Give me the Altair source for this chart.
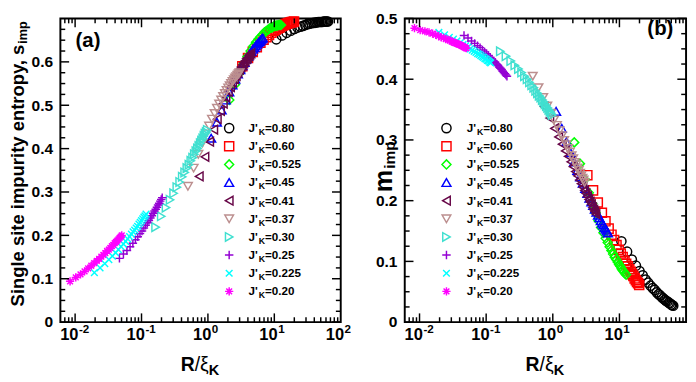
import altair as alt
import pandas as pd

FONT = "Liberation Sans"

SERIES = ["0.80", "0.60", "0.525", "0.45", "0.41", "0.37", "0.30", "0.25", "0.225", "0.20"]
COLORS = ["#000000", "#ff0000", "#00ff00", "#0000ff", "#670748", "#bc8f8f",
          "#40e0d0", "#9400d3", "#00ffff", "#ff00ff"]
PLUS = "M-1,0L1,0M0,-1L0,1"
XMARK = "M-0.8,-0.8L0.8,0.8M-0.8,0.8L0.8,-0.8"
AST = "M-1,0L1,0M0,-1L0,1M-0.7,-0.7L0.7,0.7M-0.7,0.7L0.7,-0.7"
SHAPES = ["circle", "square", "diamond", "triangle-up", "triangle-left",
          "triangle-down", "triangle-right", PLUS, XMARK, AST]
SIZES = [90, 72, 90, 105, 105, 105, 105, 120, 100, 120]

# R / xi_K values of each series (same in both panels)
X080 = [10.7, 13.03, 15.35, 17.68, 20.00, 22.33, 24.66, 26.98, 29.31, 31.63, 33.96, 36.29,
        38.61, 40.94, 43.27, 45.59, 47.92, 50.24, 52.57, 54.90, 57.22, 59.55, 61.87, 64.2]
X060 = [3.3, 4.017, 4.735, 5.452, 6.170, 6.887, 7.604, 8.322, 9.039, 9.757, 10.47, 11.19,
        11.91, 12.63, 13.34, 14.06, 14.78, 15.50, 16.21, 16.93, 17.65, 18.37, 19.08, 19.8]
X0525 = [2.1, 2.557, 3.013, 3.470, 3.926, 4.383, 4.839, 5.296, 5.752, 6.209, 6.665, 7.122,
         7.578, 8.035, 8.491, 8.948, 9.404, 9.861, 10.32, 10.77, 11.23, 11.69, 12.14, 12.6]
X045 = [1.12, 1.363, 1.607, 1.850, 2.094, 2.337, 2.581, 2.824, 3.068, 3.311, 3.555, 3.798,
        4.042, 4.285, 4.529, 4.772, 5.016, 5.259, 5.503, 5.746, 5.990, 6.233, 6.477, 6.72]
X041 = [0.74, 0.901, 1.062, 1.223, 1.384, 1.544, 1.705, 1.866, 2.027, 2.188, 2.349, 2.510,
        2.670, 2.831, 2.992, 3.153, 3.314, 3.475, 3.636, 3.797, 3.957, 4.118, 4.279, 4.44]
X037 = [0.5, 0.609, 0.717, 0.826, 0.935, 1.043, 1.152, 1.261, 1.370, 1.478, 1.587, 1.696,
        1.804, 1.913, 2.022, 2.130, 2.239, 2.348, 2.457, 2.565, 2.674, 2.783, 2.891, 3.0]
X030 = [0.163, 0.1984, 0.2339, 0.2693, 0.3047, 0.3402, 0.3756, 0.4110, 0.4465, 0.4819, 0.5173, 0.5528,
        0.5882, 0.6237, 0.6591, 0.6945, 0.7300, 0.7654, 0.8008, 0.8363, 0.8717, 0.9071, 0.9426, 0.978]
X025 = [0.0465, 0.0534, 0.0603, 0.0672, 0.0741, 0.0810, 0.0879, 0.0948, 0.1017, 0.1085, 0.1154, 0.1223,
        0.1292, 0.1361, 0.1430, 0.1499, 0.1568, 0.1637, 0.1706, 0.1775, 0.1844, 0.1913, 0.1982, 0.2051]
X0225 = [0.0195, 0.02374, 0.02798, 0.03222, 0.03646, 0.04070, 0.04493, 0.04917, 0.05341, 0.05765,
         0.06189, 0.06613, 0.07037, 0.07461, 0.07885, 0.08309, 0.08733, 0.09157, 0.0958, 0.1000,
         0.1043, 0.1085, 0.1128, 0.117]
X020 = [0.0084, 0.01023, 0.01205, 0.01388, 0.0157, 0.01753, 0.01936, 0.02118, 0.02301, 0.02483,
        0.02666, 0.02849, 0.03031, 0.03214, 0.03397, 0.03579, 0.03762, 0.03944, 0.04127, 0.0431,
        0.04492, 0.04675, 0.04857, 0.0504]

# panel (a): single site impurity entropy s_imp
SA080 = [0.652, 0.661, 0.667, 0.672, 0.676, 0.679, 0.681, 0.683, 0.685, 0.687, 0.688, 0.689,
         0.690, 0.690, 0.691, 0.692, 0.692, 0.692, 0.692, 0.693, 0.693, 0.693, 0.693, 0.693]
SA060 = [0.590, 0.609, 0.623, 0.634, 0.644, 0.651, 0.657, 0.662, 0.667, 0.671, 0.674, 0.677,
         0.679, 0.682, 0.684, 0.685, 0.687, 0.688, 0.689, 0.690, 0.691, 0.692, 0.692, 0.693]
SA0525 = [0.512, 0.548, 0.575, 0.595, 0.612, 0.625, 0.636, 0.645, 0.652, 0.658, 0.663, 0.668,
          0.671, 0.674, 0.677, 0.679, 0.680, 0.682, 0.683, 0.684, 0.684, 0.685, 0.685, 0.685]
SA045 = [0.424, 0.461, 0.489, 0.512, 0.531, 0.547, 0.560, 0.572, 0.582, 0.591, 0.599, 0.607,
         0.613, 0.619, 0.624, 0.629, 0.633, 0.637, 0.641, 0.644, 0.647, 0.650, 0.653, 0.655]
SA041 = [0.336, 0.381, 0.416, 0.444, 0.468, 0.487, 0.504, 0.518, 0.531, 0.542, 0.552, 0.560,
         0.568, 0.575, 0.582, 0.588, 0.593, 0.598, 0.602, 0.607, 0.610, 0.614, 0.617, 0.620]
SA037 = [0.313, 0.355, 0.387, 0.413, 0.434, 0.452, 0.468, 0.481, 0.493, 0.503, 0.512, 0.520,
         0.527, 0.534, 0.540, 0.545, 0.550, 0.555, 0.559, 0.563, 0.566, 0.569, 0.572, 0.575]
SA030 = [0.219, 0.244, 0.264, 0.282, 0.297, 0.311, 0.323, 0.335, 0.345, 0.355, 0.363, 0.372,
         0.379, 0.387, 0.394, 0.400, 0.406, 0.412, 0.418, 0.423, 0.429, 0.434, 0.438, 0.443]
SA025 = [0.147, 0.157, 0.165, 0.174, 0.182, 0.190, 0.197, 0.204, 0.210, 0.217, 0.223, 0.229,
         0.234, 0.240, 0.245, 0.251, 0.256, 0.260, 0.265, 0.270, 0.274, 0.279, 0.283, 0.287]
SA0225 = [0.114, 0.125, 0.135, 0.144, 0.152, 0.160, 0.167, 0.174, 0.180, 0.186, 0.192, 0.197,
          0.203, 0.208, 0.212, 0.217, 0.221, 0.226, 0.230, 0.234, 0.238, 0.242, 0.245, 0.249]
SA020 = [0.094, 0.103, 0.110, 0.117, 0.124, 0.130, 0.136, 0.141, 0.146, 0.151, 0.155, 0.159,
         0.164, 0.167, 0.171, 0.175, 0.178, 0.182, 0.185, 0.188, 0.191, 0.194, 0.197, 0.200]

# panel (b): impurity magnetisation m_imp
MB080 = [0.133, 0.116, 0.103, 0.093, 0.084, 0.077, 0.070, 0.065, 0.060, 0.056, 0.053, 0.049,
         0.046, 0.044, 0.041, 0.039, 0.037, 0.035, 0.034, 0.032, 0.031, 0.029, 0.028, 0.027]
MB060 = [0.242, 0.217, 0.197, 0.180, 0.166, 0.154, 0.144, 0.135, 0.127, 0.119, 0.113, 0.107,
         0.101, 0.096, 0.092, 0.087, 0.083, 0.079, 0.076, 0.072, 0.069, 0.066, 0.064, 0.061]
MB0525 = [0.296, 0.261, 0.235, 0.213, 0.195, 0.180, 0.167, 0.156, 0.147, 0.138, 0.131, 0.124,
          0.118, 0.112, 0.107, 0.103, 0.099, 0.095, 0.092, 0.088, 0.085, 0.083, 0.080, 0.078]
MB045 = [0.347, 0.319, 0.297, 0.279, 0.264, 0.250, 0.239, 0.229, 0.220, 0.212, 0.204, 0.198,
         0.192, 0.186, 0.181, 0.176, 0.172, 0.167, 0.163, 0.160, 0.156, 0.153, 0.150, 0.147]
MB041 = [0.355, 0.336, 0.319, 0.305, 0.293, 0.282, 0.273, 0.264, 0.256, 0.248, 0.241, 0.234,
         0.228, 0.222, 0.217, 0.212, 0.207, 0.202, 0.198, 0.194, 0.189, 0.185, 0.182, 0.178]
MB037 = [0.405, 0.386, 0.370, 0.356, 0.344, 0.333, 0.324, 0.315, 0.307, 0.299, 0.292, 0.286,
         0.280, 0.274, 0.269, 0.263, 0.259, 0.254, 0.250, 0.245, 0.241, 0.237, 0.234, 0.230]
MB030 = [0.446, 0.438, 0.430, 0.423, 0.417, 0.411, 0.405, 0.400, 0.395, 0.390, 0.386, 0.381,
         0.377, 0.373, 0.370, 0.366, 0.363, 0.359, 0.356, 0.353, 0.350, 0.347, 0.344, 0.341]
MB025 = [0.472, 0.468, 0.463, 0.459, 0.455, 0.452, 0.448, 0.445, 0.442, 0.439, 0.436, 0.433,
         0.430, 0.428, 0.425, 0.423, 0.420, 0.418, 0.416, 0.413, 0.411, 0.409, 0.407, 0.405]
MB0225 = [0.477, 0.473, 0.469, 0.466, 0.463, 0.460, 0.457, 0.455, 0.453, 0.450, 0.448, 0.446,
          0.444, 0.442, 0.441, 0.439, 0.437, 0.436, 0.434, 0.433, 0.431, 0.430, 0.428, 0.427]
MB020 = [0.484, 0.481, 0.479, 0.477, 0.475, 0.473, 0.471, 0.469, 0.468, 0.466, 0.465, 0.464,
         0.462, 0.461, 0.460, 0.459, 0.458, 0.457, 0.456, 0.455, 0.454, 0.453, 0.452, 0.451]

# ---------------- axes ----------------
XDOM = [0.006, 100]
X_MAJOR = [0.01, 0.1, 1, 10]
X_MINOR = [0.007, 0.008, 0.009, 0.02, 0.03, 0.04, 0.05, 0.06, 0.07, 0.08, 0.09,
           0.2, 0.3, 0.4, 0.5, 0.6, 0.7, 0.8, 0.9, 2, 3, 4, 5, 6, 7, 8, 9,
           20, 30, 40, 50, 60, 70, 80, 90]
XLAB_POS_A = [0.01, 0.1, 1, 10, 100]
XLAB_EXP_A = ["-2", "-1", "0", "1", "2"]
XLAB_POS_B = [0.01, 0.1, 1, 10]
XLAB_EXP_B = ["-2", "-1", "0", "1"]

YDOM_A = [0, 0.7]
YLAB_A = [0, 0.1, 0.2, 0.3, 0.4, 0.5, 0.6]
YMIN_A = [0.025, 0.05, 0.075, 0.125, 0.15, 0.175, 0.225, 0.25, 0.275, 0.325, 0.35, 0.375,
          0.425, 0.45, 0.475, 0.525, 0.55, 0.575, 0.625, 0.65, 0.675]
YDOM_B = [0, 0.5]
YLAB_B = [0, 0.1, 0.2, 0.3, 0.4, 0.5]
YMIN_B = [0.025, 0.05, 0.075, 0.125, 0.15, 0.175, 0.225, 0.25, 0.275, 0.325, 0.35, 0.375,
          0.425, 0.45, 0.475]

XS_ALL = [X080, X060, X0525, X045, X041, X037, X030, X025, X0225, X020]


def long_df(ys):
    rows = []
    for s, xl, yl in zip(SERIES, XS_ALL, ys):
        for x, y in zip(xl, yl):
            rows.append({"J": s, "x": x, "y": y})
    return pd.DataFrame(rows)


DF_A = long_df([SA080, SA060, SA0525, SA045, SA041, SA037, SA030, SA025, SA0225, SA020])
DF_B = long_df([MB080, MB060, MB0525, MB045, MB041, MB037, MB030, MB025, MB0225, MB020])

XS = alt.Scale(type="log", domain=XDOM, nice=False)
COL = alt.Color("J:N", scale=alt.Scale(domain=SERIES, range=COLORS), legend=None)
SHP = alt.Shape("J:N", scale=alt.Scale(domain=SERIES, range=SHAPES), legend=None)
SIZ = alt.Size("J:N", scale=alt.Scale(domain=SERIES, range=SIZES), legend=None)

ONE = pd.DataFrame({"k": [0]})


def txt(x, y, s, size, bold=True, align="left", angle=0, baseline="alphabetic"):
    kw = dict(align=align, baseline=baseline, font=FONT, fontSize=size, color="black",
              fontWeight="bold" if bold else "normal")
    if angle:
        kw["angle"] = angle
    return alt.Chart(ONE).mark_text(**kw).encode(x=alt.value(x), y=alt.value(y), text=alt.value(s))


def panel(df, W, H, ydom, ylabels, yminor, xpos, xexp, sym_x, txt_x, extra):
    YS = alt.Scale(domain=ydom, nice=False, zero=False)
    YAX = alt.Axis(values=ylabels, ticks=False, tickSize=0, domain=False, grid=False,
                   labelFont=FONT, labelFontWeight="bold", labelFontSize=16, labelColor="black",
                   labelPadding=8, labelFlush=False, labelOverlap=False,
                   labelExpr="datum.value == 0 ? '0' : format(datum.value, '.1f')", title="")
    layers = []
    pts = alt.Chart(df).mark_point(filled=False, strokeWidth=1.5, opacity=1).encode(
        x=alt.X("x:Q", scale=XS, axis=None),
        y=alt.Y("y:Q", scale=YS, axis=YAX),
        color=COL, shape=SHP, size=SIZ)
    layers.append(pts)

    for vals, L in ((X_MAJOR, 9), (X_MINOR, 5)):
        b = alt.Chart(pd.DataFrame({"v": vals})).mark_rule(color="black", strokeWidth=1.5)
        layers.append(b.encode(x=alt.X("v:Q", scale=XS, axis=None), y=alt.value(H), y2=alt.value(H - L)))
        layers.append(b.encode(x=alt.X("v:Q", scale=XS, axis=None), y=alt.value(0), y2=alt.value(L)))
    for vals, L in ((ylabels, 9), (yminor, 5)):
        b = alt.Chart(pd.DataFrame({"v": vals})).mark_rule(color="black", strokeWidth=1.5)
        layers.append(b.encode(y=alt.Y("v:Q", scale=YS, axis=YAX), x=alt.value(0), x2=alt.value(L)))
        layers.append(b.encode(y=alt.Y("v:Q", scale=YS, axis=YAX), x=alt.value(W), x2=alt.value(W - L)))

    # custom x tick labels 10^n
    xl = pd.DataFrame({"v": xpos, "e": xexp})
    layers.append(alt.Chart(xl).mark_text(align="right", baseline="alphabetic", dx=3.5, font=FONT,
                                          fontWeight="bold", fontSize=17, color="black").encode(
        x=alt.X("v:Q", scale=XS, axis=None), y=alt.value(H + 18), text=alt.value("10")))
    layers.append(alt.Chart(xl).mark_text(align="left", baseline="alphabetic", dx=4, font=FONT,
                                          fontWeight="bold", fontSize=12, color="black").encode(
        x=alt.X("v:Q", scale=XS, axis=None), y=alt.value(H + 11), text="e:N"))

    # x title  R/xi_K
    cx = W / 2
    layers.append(txt(cx - 20.5, H + 50, "R", 20))
    layers.append(txt(cx - 6, H + 50, "/ξ", 20, bold=False))
    layers.append(txt(cx + 8.5, H + 55, "K", 15))

    # legend
    lg = pd.DataFrame({"J": SERIES})
    lg["ly"] = [113 + 18.7 * i for i in range(len(SERIES))]
    lg["lx"] = sym_x
    lg["t1"] = txt_x
    lg["t2"] = txt_x + 10.5
    lg["t3"] = txt_x + 17
    lg["lab"] = ["=" + s for s in SERIES]
    layers.append(alt.Chart(lg).mark_point(filled=False, strokeWidth=1.5, opacity=1).encode(
        x=alt.X("lx:Q", scale=None, axis=None), y=alt.Y("ly:Q", scale=None, axis=None),
        color=COL, shape=SHP, size=SIZ))
    tk = dict(align="left", baseline="middle", font=FONT, fontWeight="bold", color="black")
    layers.append(alt.Chart(lg).mark_text(fontSize=12, **tk).encode(
        x=alt.X("t1:Q", scale=None, axis=None), y=alt.Y("ly:Q", scale=None, axis=None),
        text=alt.value("J'")))
    layers.append(alt.Chart(lg).mark_text(fontSize=9, dy=4, **tk).encode(
        x=alt.X("t2:Q", scale=None, axis=None), y=alt.Y("ly:Q", scale=None, axis=None),
        text=alt.value("K")))
    layers.append(alt.Chart(lg).mark_text(fontSize=12, **tk).encode(
        x=alt.X("t3:Q", scale=None, axis=None), y=alt.Y("ly:Q", scale=None, axis=None),
        text="lab:N"))

    layers.extend(extra)
    return alt.layer(*layers).properties(width=W, height=H)


WA, HA = 289, 313
WB, HB = 290, 313

extra_a = [
    txt(28.5, 29, "(a)", 21, align="center"),
    txt(-38, 27, "Single site impurity entropy, s", 19, align="right", angle=270),
    txt(-34, 26, "imp", 13, align="left", angle=270),
]
extra_b = [
    txt(263.5, 17, "(b)", 21, align="center"),
    txt(-13, 156, "m", 26, align="right", angle=270),
    txt(-10, 155, "imp", 16, align="left", angle=270),
]

pa = panel(DF_A, WA, HA, YDOM_A, YLAB_A, YMIN_A, XLAB_POS_A, XLAB_EXP_A, 174, 194, extra_a)
pb = panel(DF_B, WB, HB, YDOM_B, YLAB_B, YMIN_B, XLAB_POS_B, XLAB_EXP_B, 43, 64, extra_b)

chart = alt.hconcat(pa, pb, spacing=19).properties(
    padding={"left": 0, "top": -4, "right": 0, "bottom": 0},
    background="white",
).configure_view(stroke="black", strokeWidth=2)

chart.save("out.html", embed_options={"renderer": "svg", "actions": False})
